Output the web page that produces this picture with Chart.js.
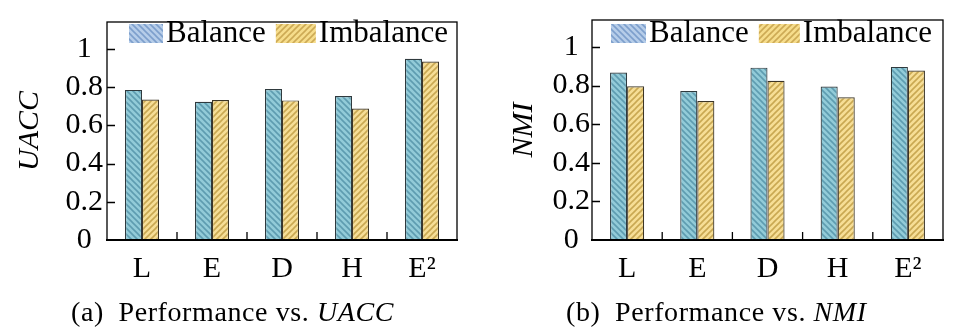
<!DOCTYPE html>
<html>
<head>
<meta charset="utf-8">
<script src="https://cdn.jsdelivr.net/npm/chart.js@4.4.1/dist/chart.umd.min.js"></script>
<style>
  html, body { margin: 0; padding: 0; background: #fff; overflow: hidden; }
  #wrap { position: relative; width: 959px; height: 331px; }
  canvas { position: absolute; top: 0; }
  .cap { position: absolute; top: 297px; font-family: "Liberation Serif", serif; font-size: 28px; line-height: 30px; letter-spacing: 0.6px; color: #000; white-space: nowrap; }
</style>
</head>
<body>
<div id="wrap">
  <canvas id="uacc" width="486" height="300" style="left:0"></canvas>
  <canvas id="nmi" width="473" height="300" style="left:486px"></canvas>
  <div class="cap" style="left:71px">(a)&ensp;Performance vs. <i>UACC</i></div>
  <div class="cap" style="left:566px">(b)&ensp;Performance vs. <i>NMI</i></div>
</div>
<script>
var methods = ['L', 'E', 'D', 'H', 'E²'];
var seriesNames = ['Balance', 'Imbalance'];
var uaccBalance = [0.785, 0.723, 0.790, 0.753, 0.948];
var uaccImbalance = [0.735, 0.732, 0.730, 0.688, 0.933];
var nmiBalance = [0.868, 0.772, 0.893, 0.795, 0.897];
var nmiImbalance = [0.797, 0.720, 0.825, 0.740, 0.878];
var yTicks = [0, 0.2, 0.4, 0.6, 0.8, 1];

var serif = '"Liberation Serif", "Times New Roman", serif';

function hatch(bg, fg, forward) {
    var c = document.createElement('canvas');
    c.width = 6; c.height = 6;
    var g = c.getContext('2d');
    g.fillStyle = bg;
    g.fillRect(0, 0, 6, 6);
    g.strokeStyle = fg;
    g.lineWidth = 1.6;
    g.beginPath();
    if (forward) {
        g.moveTo(0, 6); g.lineTo(6, 0);
        g.moveTo(-1, 1); g.lineTo(1, -1);
        g.moveTo(5, 7); g.lineTo(7, 5);
    } else {
        g.moveTo(0, 0); g.lineTo(6, 6);
        g.moveTo(-1, 5); g.lineTo(1, 7);
        g.moveTo(5, -1); g.lineTo(7, 1);
    }
    g.stroke();
    return g.createPattern(c, 'repeat');
}

var barFill = [hatch('#92cbd8', '#5e9cb0', false), hatch('#f6de96', '#c9a852', true)];
var legendFill = [hatch('#b6cde9', '#7d9fcc', false), hatch('#f6dd8c', '#cdaa55', true)];

// box round the plot, inward ticks and the legend
var frame = {
    id: 'frame',
    afterDatasetsDraw: function (chart) {
        var ctx = chart.ctx, a = chart.chartArea;
        var x = chart.scales.x, y = chart.scales.y;
        ctx.save();
        ctx.strokeStyle = '#000';
        ctx.lineWidth = 1.3;
        ctx.strokeRect(a.left, a.top, a.right - a.left, a.bottom - a.top);
        ctx.lineWidth = 2;
        ctx.beginPath();
        ctx.moveTo(a.left - 1, a.bottom); ctx.lineTo(a.right + 1, a.bottom);
        ctx.stroke();
        ctx.lineWidth = 1.3;
        ctx.beginPath();
        y.ticks.forEach(function (t) {
            if (t.value <= 0) return;
            var py = Math.round(y.getPixelForValue(t.value)) + 0.5;
            ctx.moveTo(a.left, py); ctx.lineTo(a.left + 8, py);
        });
        for (var i = 1; i < chart.data.labels.length; i++) {
            var px = (x.getPixelForValue(i - 1) + x.getPixelForValue(i)) / 2;
            ctx.moveTo(px, a.bottom); ctx.lineTo(px, a.bottom - 8);
        }
        ctx.stroke();

        var opt = chart.options.plugins.frame;
        var lx = a.left + opt.legendX, ly = 24;
        ctx.font = '31px ' + serif;
        ctx.textBaseline = 'middle';
        chart.data.datasets.forEach(function (ds, k) {
            ctx.fillStyle = legendFill[k];
            ctx.fillRect(lx, ly, opt.boxes[k], 19);
            lx += opt.boxes[k] + 3;
            ctx.fillStyle = '#000';
            ctx.fillText(ds.label, lx, ly + 10);
            lx += ctx.measureText(ds.label).width + 10;
        });
        ctx.restore();
    }
};

function makeChart(id, title, balance, imbalance, sizes) {
    return new Chart(document.getElementById(id), {
        type: 'bar',
        data: {
            labels: methods,
            datasets: [
                { label: seriesNames[0], data: balance, backgroundColor: barFill[0], borderColor: '#2f3a3e', borderWidth: 1.2 },
                { label: seriesNames[1], data: imbalance, backgroundColor: barFill[1], borderColor: '#3c3526', borderWidth: 1.2 }
            ]
        },
        options: {
            responsive: false,
            animation: false,
            devicePixelRatio: 1,
            layout: { padding: { top: 13, right: sizes.right, left: 0, bottom: 0 } },
            datasets: { bar: { categoryPercentage: 0.486, barPercentage: 1 } },
            plugins: {
                legend: { display: false },
                tooltip: { enabled: false },
                frame: { legendX: sizes.legendX, boxes: sizes.boxes }
            },
            scales: {
                x: {
                    grid: { display: false },
                    border: { display: false },
                    ticks: { color: '#000', font: { family: serif, size: 30 }, padding: 3, maxRotation: 0 },
                    afterFit: function (s) { s.height = 60; }
                },
                y: {
                    min: 0,
                    max: 1.14,
                    grid: { display: false, drawTicks: false },
                    border: { display: false },
                    afterBuildTicks: function (s) {
                        s.ticks = yTicks.map(function (v) { return { value: v }; });
                    },
                    ticks: {
                        color: '#000',
                        padding: sizes.tickPad,
                        crossAlign: 'center',
                        font: { family: serif, size: 30 },
                        callback: function (v) { return String(Math.round(v * 10) / 10); }
                    },
                    title: {
                        display: true,
                        text: title,
                        color: '#000',
                        padding: { top: sizes.titlePad, bottom: 0 },
                        font: { family: serif, size: 30, style: 'italic' }
                    },
                    afterFit: function (s) { s.width = sizes.left; }
                }
            }
        },
        plugins: [frame]
    });
}

makeChart('uacc', 'UACC', uaccBalance, uaccImbalance, { left: 107, right: 29, tickPad: 4, titlePad: 12, legendX: 22, boxes: [34, 40] });
makeChart('nmi', 'NMI', nmiBalance, nmiImbalance, { left: 106, right: 16, tickPad: 2, titlePad: 20, legendX: 19, boxes: [35, 41] });
</script>
</body>
</html>
